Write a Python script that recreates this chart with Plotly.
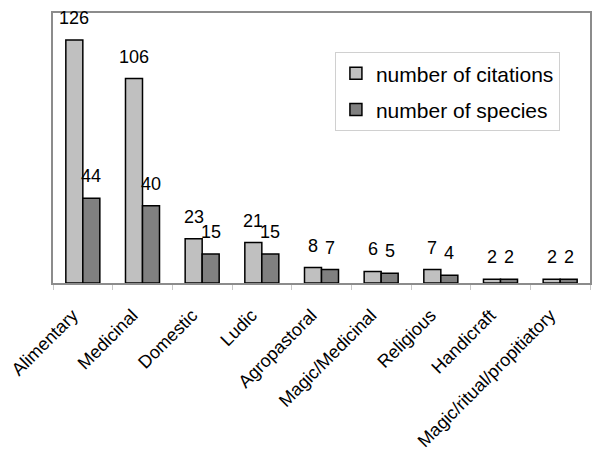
import plotly.graph_objects as go

categories = ["Alimentary", "Medicinal", "Domestic", "Ludic", "Agropastoral",
              "Magic/Medicinal", "Religious", "Handicraft", "Magic/ritual/propitiatory"]
citations = [126, 106, 23, 21, 8, 6, 7, 2, 2]
species = [44, 40, 15, 15, 7, 5, 4, 2, 2]

FONT = "Liberation Sans, Arial, sans-serif"
LIGHT = "#c0c0c0"
DARK = "#808080"
AXIS = "#8c8c8c"

fig = go.Figure()
fig.add_trace(go.Bar(x=categories, y=citations, name="number of citations",
                     legendgroup="a",
                     marker=dict(color=LIGHT, line=dict(color="black", width=1.5))))
fig.add_trace(go.Bar(x=categories, y=species, name="number of species",
                     legendgroup="b",
                     marker=dict(color=DARK, line=dict(color="black", width=1.5))))

# value labels sit a little above each bar, Excel style
annotations = []
for values, shift in ((citations, -8.5), (species, 8.5)):
    for cat, v in zip(categories, values):
        annotations.append(dict(x=cat, y=v, xref="x", yref="y", text=str(v),
                                showarrow=False, xshift=shift, yshift=22,
                                font=dict(family=FONT, size=18, color="black")))

fig.update_layout(
    width=600, height=456,
    margin=dict(l=53, r=10, t=13, b=173),
    paper_bgcolor="white", plot_bgcolor="white",
    barmode="group", bargap=0.43, bargroupgap=0,
    font=dict(family=FONT, color="black"),
    annotations=annotations,
    legend=dict(x=0.525, y=0.855, xanchor="left", yanchor="top",
                bgcolor="white", bordercolor="#d0d0d0", borderwidth=1,
                font=dict(family=FONT, size=21), tracegroupgap=6),
    showlegend=True,
)
fig.update_xaxes(showline=True, linecolor=AXIS, linewidth=1.5, mirror=True,
                 ticks="outside", tickson="boundaries", ticklen=5, tickcolor="#c8c8c8",
                 tickangle=-45, tickfont=dict(family=FONT, size=18, color="black"),
                 ticklabelshift=-10, ticklabelstandoff=13,
                 showgrid=False, automargin=False)
fig.update_yaxes(range=[0, 140], showline=True, linecolor=AXIS, linewidth=1.5,
                 mirror=True, showticklabels=False, ticks="", showgrid=False,
                 zeroline=False, automargin=False)

# drop the default page margin so the figure fills the window exactly
fig.write_html("out.html", config={"displayModeBar": False},
               post_script="document.body.style.margin='0';")
